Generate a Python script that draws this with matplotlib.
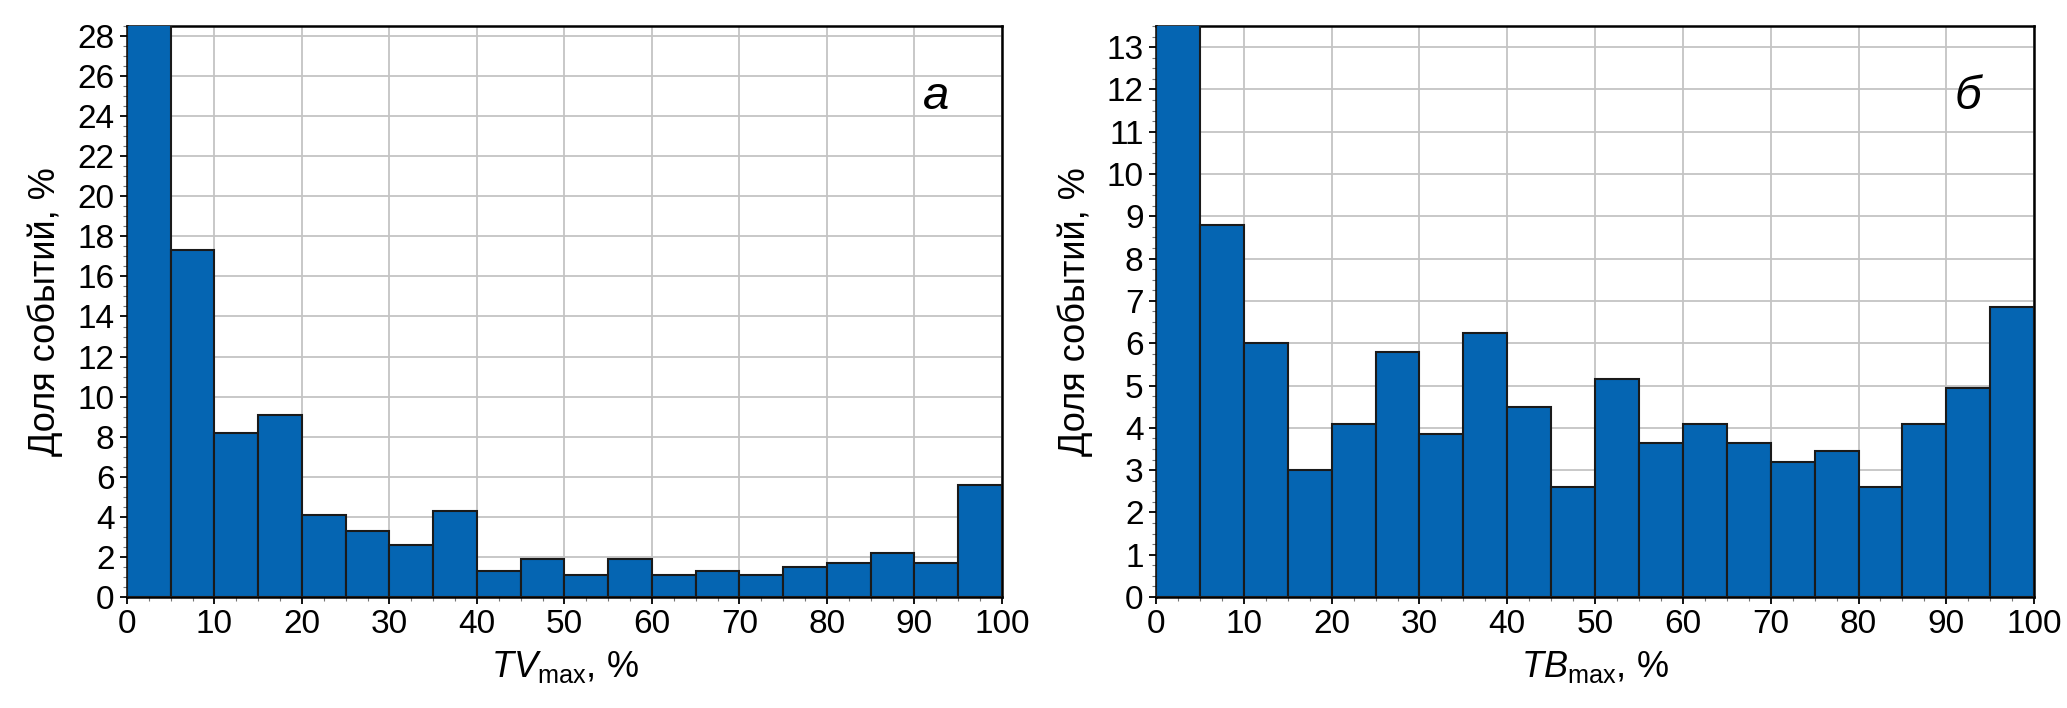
import numpy as np
import matplotlib
matplotlib.use("Agg")
import matplotlib.pyplot as plt
from matplotlib.ticker import MultipleLocator

plt.rcParams["font.family"] = ["Liberation Sans Narrow", "Liberation Sans", "DejaVu Sans"]
plt.rcParams["mathtext.fontset"] = "custom"
plt.rcParams["mathtext.rm"] = "Liberation Sans"
plt.rcParams["mathtext.it"] = "Liberation Sans:italic"

# bin left edges, % of maximum
bin_left = [0, 5, 10, 15, 20, 25, 30, 35, 40, 45, 50, 55, 60, 65, 70, 75, 80, 85, 90, 95]

# share of events, % (first bar is clipped by the axis top in the source)
share_tv = [30.0, 17.3, 8.2, 9.1, 4.1, 3.3, 2.6, 4.3, 1.3, 1.9,
            1.1, 1.9, 1.1, 1.3, 1.1, 1.5, 1.7, 2.2, 1.7, 5.6]
share_tb = [14.5, 8.8, 6.0, 3.0, 4.1, 5.8, 3.85, 6.25, 4.5, 2.6,
            5.15, 3.65, 4.1, 3.65, 3.2, 3.45, 2.6, 4.1, 4.95, 6.85]

panels = [
    dict(vals=share_tv, ymax=28.5, ystep=2, yminor=0.5, xlabel=r"$TV_{\mathrm{max}}$, %",
         tag="а", rect=[0.0614, 0.1568, 0.4233, 0.8065]),
    dict(vals=share_tb, ymax=13.5, ystep=1, yminor=0.25, xlabel=r"$TB_{\mathrm{max}}$, %",
         tag="б", rect=[0.5593, 0.1568, 0.4248, 0.8065]),
]

bar_color = "#0565b2"

fig = plt.figure(figsize=(20.67, 7.08), dpi=100)

for p in panels:
    ax = fig.add_axes(p["rect"])
    ax.bar(bin_left, p["vals"], width=5, align="edge", color=bar_color,
           edgecolor="#1a1a1a", linewidth=1.5, zorder=3)
    ax.set_xlim(0, 100)
    ax.set_ylim(0, p["ymax"])
    ax.xaxis.set_major_locator(MultipleLocator(10))
    ax.xaxis.set_minor_locator(MultipleLocator(2.5))
    ax.yaxis.set_major_locator(MultipleLocator(p["ystep"]))
    ax.yaxis.set_minor_locator(MultipleLocator(p["yminor"]))
    ax.grid(True, which="major", color="#c4c4c4", linewidth=1.3, zorder=0)
    ax.set_axisbelow(True)
    ax.tick_params(which="major", direction="out", length=5, width=1.3, labelsize=24, pad=4)
    ax.tick_params(which="minor", direction="out", length=3, width=0.8, color="#777777")
    for s in ax.spines.values():
        s.set_linewidth(1.8)
        s.set_color("black")
    ax.set_ylabel("Доля событий, %", fontsize=26, family=["Liberation Sans", "DejaVu Sans"], labelpad=10)
    ax.set_xlabel(p["xlabel"], fontsize=26, family=["Liberation Sans", "DejaVu Sans"], labelpad=6)
    ax.text(0.925, 0.875, p["tag"], transform=ax.transAxes, fontsize=34, style="italic",
            family=["Liberation Sans", "DejaVu Sans"], ha="center", va="center", zorder=5)

fig.savefig("out.png", dpi=100)
